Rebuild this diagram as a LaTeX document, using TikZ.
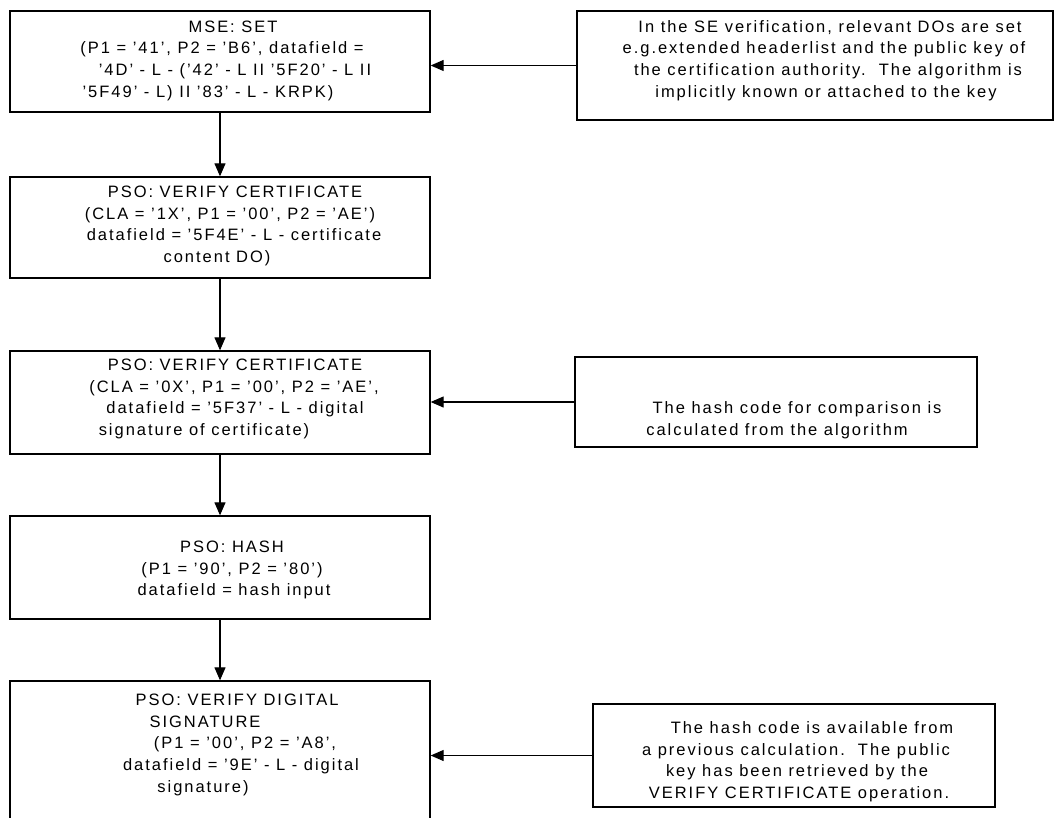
\documentclass[tikz,border=0pt]{standalone}
\usepackage{fontspec}
\setmainfont{Liberation Sans}[LetterSpace=12]
\usetikzlibrary{arrows.meta,fit}
\newcommand\cl[2]{\makebox[0pt][c]{\hspace*{#1}\hspace*{#1}#2}}
\newcommand\fs{\rule{0pt}{15pt}}
\begin{document}
\begin{tikzpicture}[x=1pt,y=-1pt,
  box/.style={draw,line width=1.3pt,inner sep=0pt},
  txt/.style={inner sep=0pt,anchor=north,align=left,font=\fontsize{16.5}{21.8}\selectfont},
  arr/.style={line width=1.1pt,-{Triangle[length=13pt,width=11pt]}}]
\useasboundingbox (0,0) rectangle (1056,818);
% left column
\node[box,fit={(10,11) (430,112)}] (b1) {};
\node[box,fit={(10,177) (430,278)}] (b2) {};
\node[box,fit={(10,351) (430,454)}] (b3) {};
\node[box,fit={(10,516) (430,619)}] (b4) {};
\node[box,fit={(10,681) (430,840)}] (b5) {};
% right column
\node[box,fit={(577,11) (1053,120)}] (r1) {};
\node[box,fit={(575,357) (977,447)}] (r2) {};
\node[box,fit={(593,704) (995,807)}] (r3) {};
% texts
\node[txt] (t1) at (220,17) {\fs\cl{13pt}{MSE: SET}\\
  \cl{2pt}{(P1 = '41', P2 = 'B6', datafield =}\\
  \cl{15pt}{'4D' - L - ('42' - L II '5F20' - L II}\\
  \cl{-12pt}{'5F49' - L) II '83' - L - KRPK)}};
\node[txt] (t2) at (220,182) {\fs\cl{15pt}{PSO: VERIFY CERTIFICATE}\\
  \cl{10pt}{(CLA = '1X', P1 = '00', P2 = 'AE')}\\
  \cl{14pt}{datafield = '5F4E' - L - certificate}\\
  \cl{-3pt}{content DO)}};
\node[txt] (t3) at (220,355) {\fs\cl{15pt}{PSO: VERIFY CERTIFICATE}\\
  \cl{14pt}{(CLA = '0X', P1 = '00', P2 = 'AE',}\\
  \cl{15pt}{datafield = '5F37' - L - digital}\\
  \cl{-16pt}{signature of certificate)}};
\node[txt] (t4) at (220,537) {\fs\cl{12pt}{PSO: HASH}\\
  \cl{12pt}{(P1 = '90', P2 = '80')}\\
  \cl{14pt}{datafield = hash input}};
\node[txt] (t5) at (220,690) {\fs\cl{17pt}{PSO: VERIFY DIGITAL}\\
  \cl{-15pt}{SIGNATURE}\\
  \cl{25pt}{(P1 = '00', P2 = 'A8',}\\
  \cl{21pt}{datafield = '9E' - L - digital}\\
  \cl{-17pt}{signature)}};
\node[txt] (s1) at (815,17) {\fs\cl{15pt}{In the SE verification, relevant DOs are set}\\
  \cl{9pt}{e.g.extended headerlist and the public key of}\\
  \cl{13pt}{the certification authority.\ \ The algorithm is}\\
  \cl{11pt}{implicitly known or attached to the key}};
\node[txt] (s2) at (776,398) {\fs\cl{21pt}{The hash code for comparison is}\\
  \cl{1pt}{calculated from the algorithm}};
\node[txt] (s3) at (794,718) {\fs\cl{18pt}{The hash code is available from}\\
  \cl{2pt}{a previous calculation.\ \ The public}\\
  \cl{3pt}{key has been retrieved by the}\\
  \cl{5pt}{VERIFY CERTIFICATE operation.}};
% connectors
\draw[arr] (b1.south) -- (b2.north);
\draw[arr] (b2.south) -- (b3.north);
\draw[arr] (b3.south) -- (b4.north);
\draw[arr] (b4.south) -- (b5.north);
\draw[arr] (r1.west) -- (b1.east |- r1.west);
\draw[arr] (r2.west) -- (b3.east |- r2.west);
\draw[arr] (r3.west) -- (b5.east |- r3.west);
\end{tikzpicture}
\end{document}
